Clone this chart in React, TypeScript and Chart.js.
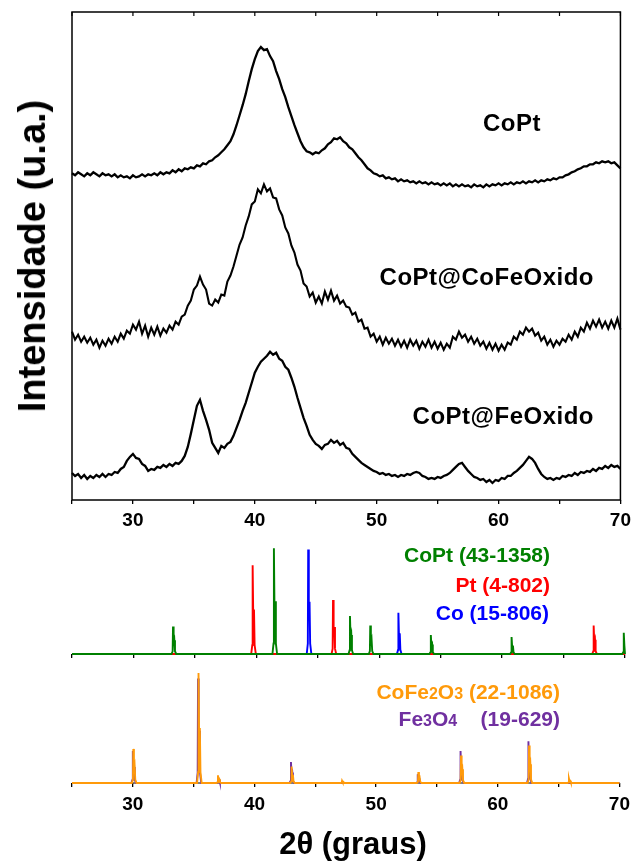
import React, { useEffect, useRef } from "react";
import { Chart, registerables } from "chart.js";

Chart.register(...registerables);

// Measured scans: 2θ from 25° to 70° in 0.25° steps (stacked, arbitrary units)
const SCAN_START = 25;
const SCAN_STEP = 0.25;

const scanCoPt = [
  326, 324, 327, 325, 323, 326, 324, 327, 325, 323, 326, 324, 325, 323, 325, 322, 324, 322, 323, 321,
  324, 322, 323, 325, 323, 325, 324, 326, 324, 327, 325, 327, 326, 329, 327, 330, 328, 331, 330, 332,
  331, 334, 333, 336, 335, 338, 339, 342, 344, 347, 350, 354, 358, 365, 374, 384, 394, 405, 418, 430,
  440, 448, 452, 449, 450, 443, 438, 428, 420, 410, 402, 392, 383, 374, 366, 358, 352, 348, 347, 345,
  347, 346, 349, 351, 355, 357, 361, 360, 362, 358, 356, 352, 350, 346, 342, 339, 335, 331, 329, 326,
  325, 323, 324, 321, 322, 320, 321, 318, 320, 318, 319, 317, 318, 316, 318, 316, 317, 315, 317, 315,
  316, 314, 316, 314, 316, 313, 315, 313, 315, 313, 314, 312, 315, 313, 314, 312, 315, 313, 315, 314,
  316, 314, 316, 315, 317, 315, 317, 316, 318, 316, 318, 317, 319, 317, 319, 318, 320, 319, 321, 320,
  322, 322, 324, 325, 327, 328, 330, 331, 333, 333, 335, 335, 337, 336, 338, 337, 338, 336, 337, 334,
  331,
];

const scanCoPtCoFe = [
  168, 160, 165, 158, 163, 157, 162, 155, 160, 152, 159, 154, 161, 156, 163, 158, 166, 161, 169, 166,
  175, 170, 178, 166, 174, 163, 172, 165, 173, 164, 171, 167, 174, 170, 178, 175, 183, 185, 194, 199,
  210, 214, 223, 215, 210, 196, 194, 200, 197, 205, 204, 218, 224, 233, 244, 255, 262, 274, 283, 295,
  298, 310, 306, 315, 308, 311, 302, 301, 290, 284, 272, 266, 254, 247, 235, 229, 216, 213, 203, 207,
  197, 203, 196, 208, 200, 209, 199, 204, 196, 199, 193, 192, 185, 187, 178, 180, 171, 172, 163, 166,
  158, 163, 155, 162, 156, 161, 154, 160, 153, 159, 152, 160, 154, 159, 151, 158, 153, 160, 152, 158,
  151, 157, 150, 156, 152, 163, 160, 168, 162, 165, 158, 163, 156, 161, 154, 158, 151, 157, 150, 156,
  149, 155, 150, 157, 155, 163, 160, 168, 165, 172, 168, 171, 164, 167, 159, 163, 155, 160, 153, 159,
  155, 161, 158, 165, 160, 168, 163, 172, 168, 177, 171, 179, 173, 180, 172, 178, 171, 179, 172, 181,
  170,
];

const scanCoPtFe = [
  27, 24, 26, 22, 25, 21, 24, 22, 25, 23, 26, 23, 26, 25, 28, 27, 31, 33, 39, 43,
  46, 42, 41, 36, 34, 29, 31, 30, 33, 32, 35, 33, 36, 34, 37, 36, 39, 44, 53, 66,
  80, 94, 100, 89, 80, 70, 57, 52, 47, 54, 52, 56, 58, 64, 72, 80, 89, 97, 107, 117,
  127, 133, 138, 141, 144, 148, 145, 147, 141, 139, 133, 130, 122, 113, 102, 92, 82, 74, 65, 60,
  56, 54, 51, 55, 56, 60, 57, 59, 55, 57, 52, 51, 46, 43, 40, 37, 35, 33, 31, 29,
  28, 26, 27, 25, 26, 24, 25, 23, 25, 24, 26, 25, 27, 28, 27, 24, 23, 21, 22, 21,
  23, 22, 24, 25, 27, 30, 33, 36, 37, 33, 29, 26, 23, 22, 20, 21, 18, 20, 17, 20,
  19, 22, 21, 24, 24, 27, 29, 32, 35, 39, 43, 41, 37, 31, 26, 23, 21, 22, 20, 22,
  21, 24, 23, 25, 24, 27, 25, 28, 27, 29, 28, 31, 29, 32, 31, 34, 32, 35, 33, 34,
  31,
];

// Reference patterns (JCPDS): peak positions (2θ) and relative intensities
const coptPeaks = [33.22, 41.43, 47.62, 49.27, 54.2, 60.77, 69.9];
const coptInts = [26, 100, 36, 27, 18, 16, 20];
const ptPeaks = [39.7, 46.24, 67.45];
const ptInts = [84, 51, 27];
const coPeaks = [44.22, 51.56];
const coInts = [99, 39];

const cfoPeaks = [30.04, 35.4, 37.0, 43.05, 47.2, 53.47, 56.98, 62.57, 65.85];
const cfoInts = [31, 100, 7, 15, 2, 10, 25, 34, 4];
const fe3o4Peaks = [30.0, 35.36, 37.0, 43.0, 53.42, 56.94, 62.52];
const fe3o4Ints = [29, 95, 6, 19, 8, 29, 38];

const xTicksMajor = [30, 40, 50, 60, 70];

const FONT = "'Liberation Sans', Arial, Helvetica, sans-serif";

type Pt = { x: number; y: number };

const toPoints = (vals: number[]): Pt[] =>
  vals.map((v, i) => ({ x: SCAN_START + i * SCAN_STEP, y: v }));

// Narrow line profile for each reference reflection (Kα1 with Kα2 shoulder)
const stickProfile = (pos: number[], ints: number[]): Pt[] => {
  const pts: Pt[] = [{ x: 25, y: 0 }];
  pos.forEach((p, i) => {
    const h = ints[i];
    pts.push(
      { x: p - 0.12, y: 0 },
      { x: p - 0.03, y: h * 0.1 },
      { x: p, y: h },
      { x: p + 0.05, y: h * 0.4 },
      { x: p + 0.11, y: h * 0.5 },
      { x: p + 0.16, y: h * 0.1 },
      { x: p + 0.26, y: 0 }
    );
  });
  pts.push({ x: 70, y: 0 });
  return pts.filter((q) => q.x >= 25 && q.x <= 70).sort((a, b) => a.x - b.x);
};

const tickLabel = (v: any, show: boolean) => {
  const n = Number(v);
  return show && xTicksMajor.includes(n) ? String(n) : "";
};

const xScale = (showLabels: boolean, axisHeight: number, padding: number) => ({
  type: "linear" as const,
  min: 25,
  max: 70,
  afterFit: (s: any) => {
    s.height = axisHeight;
  },
  ticks: {
    stepSize: 5,
    autoSkip: false,
    maxRotation: 0,
    padding,
    color: "#000",
    font: { family: FONT, size: 19, weight: "bold" as const },
    callback: (v: any) => tickLabel(v, showLabels),
  },
  grid: {
    drawOnChartArea: false,
    drawTicks: true,
    tickLength: 4,
    color: "#000",
    lineWidth: 1.3,
  },
  border: { display: false },
});

// Frame around the measured-scan panel, with inward ticks on the top edge
const framePlugin = {
  id: "panelFrame",
  afterDraw(chart: any) {
    const { ctx, chartArea: a, scales } = chart;
    ctx.save();
    ctx.strokeStyle = "#000";
    ctx.lineWidth = 1.5;
    ctx.strokeRect(a.left, a.top, a.right - a.left, a.bottom - a.top);
    ctx.lineWidth = 1.2;
    for (let v = 25; v <= 70; v += 5) {
      const px = scales.x.getPixelForValue(v);
      ctx.beginPath();
      ctx.moveTo(px, a.top);
      ctx.lineTo(px, a.top + 4);
      ctx.stroke();
    }
    ctx.restore();
  },
};

// Plain baseline axis for the reference-pattern panels
const baselinePlugin = {
  id: "baselineAxis",
  beforeDatasetsDraw(chart: any) {
    const { ctx, chartArea: a } = chart;
    ctx.save();
    ctx.strokeStyle = "#000";
    ctx.lineWidth = 1.2;
    ctx.beginPath();
    ctx.moveTo(a.left, a.bottom);
    ctx.lineTo(a.right, a.bottom);
    ctx.stroke();
    ctx.restore();
  },
};

const lineDs = (data: Pt[], color: string, width: number) => ({
  data,
  borderColor: color,
  borderWidth: width,
  pointRadius: 0,
  tension: 0,
  fill: false,
  clip: false as const,
});

const baseOptions = (padding: any, x: any, yMax: number) => ({
  animation: false as const,
  responsive: false,
  maintainAspectRatio: false,
  events: [] as any[],
  layout: { padding },
  plugins: { legend: { display: false }, tooltip: { enabled: false } },
  scales: {
    x,
    y: { display: false, min: 0, max: yMax },
  },
});

const abs = (style: React.CSSProperties): React.CSSProperties => ({
  position: "absolute",
  fontFamily: FONT,
  fontWeight: "bold",
  lineHeight: 1,
  whiteSpace: "pre",
  ...style,
});

export default function App() {
  const topRef = useRef<HTMLCanvasElement>(null);
  const midRef = useRef<HTMLCanvasElement>(null);
  const botRef = useRef<HTMLCanvasElement>(null);

  useEffect(() => {
    document.body.style.margin = "0";
    const charts: Chart[] = [];

    charts.push(
      new Chart(topRef.current!, {
        type: "line",
        data: {
          datasets: [
            lineDs(toPoints(scanCoPt), "#000", 2.3),
            lineDs(toPoints(scanCoPtCoFe), "#000", 2.1),
            lineDs(toPoints(scanCoPtFe), "#000", 2.3),
          ],
        },
        options: baseOptions(
          { left: 72, right: 11, top: 12, bottom: 0 },
          xScale(true, 40, 5),
          487
        ) as any,
        plugins: [framePlugin],
      })
    );

    charts.push(
      new Chart(midRef.current!, {
        type: "line",
        data: {
          datasets: [
            lineDs(stickProfile(coptPeaks, coptInts), "#008000", 1.9),
            lineDs(stickProfile(ptPeaks, ptInts), "#FF0000", 1.9),
            lineDs(stickProfile(coPeaks, coInts), "#0000FF", 1.9),
          ],
        },
        options: baseOptions(
          { left: 72, right: 11, top: 2, bottom: 0 },
          xScale(false, 11, 0),
          106
        ) as any,
        plugins: [baselinePlugin],
      })
    );

    charts.push(
      new Chart(botRef.current!, {
        type: "line",
        data: {
          datasets: [
            lineDs(stickProfile(cfoPeaks, cfoInts), "#FF9A0A", 1.9),
            lineDs(stickProfile(fe3o4Peaks, fe3o4Ints), "#7030A0", 1.9),
          ],
        },
        options: baseOptions(
          { left: 72, right: 11, top: 5, bottom: 0 },
          xScale(true, 78, 6),
          102.7
        ) as any,
        plugins: [baselinePlugin],
      })
    );

    return () => charts.forEach((c) => c.destroy());
  }, []);

  return (
    <div
      style={{
        position: "absolute",
        left: 0,
        top: 0,
        width: 636,
        height: 861,
        background: "#fff",
        overflow: "hidden",
      }}
    >
      <canvas
        ref={topRef}
        width={636}
        height={540}
        style={{ position: "absolute", left: 0, top: 0, width: 636, height: 540 }}
      />
      <canvas
        ref={midRef}
        width={636}
        height={125}
        style={{ position: "absolute", left: 0, top: 540, width: 636, height: 125 }}
      />
      <canvas
        ref={botRef}
        width={636}
        height={196}
        style={{ position: "absolute", left: 0, top: 665, width: 636, height: 196 }}
      />

      <div
        style={abs({
          left: 32,
          top: 256,
          fontSize: 38,
          transform: "translate(-50%, -50%) rotate(-90deg)",
        })}
      >
        Intensidade (u.a.)
      </div>

      <div style={abs({ left: 512, top: 123, fontSize: 24, letterSpacing: 0.5, transform: "translate(-50%, -50%)" })}>
        CoPt
      </div>
      <div style={abs({ right: 42, top: 277, fontSize: 24, letterSpacing: 0.5, transform: "translateY(-50%)" })}>
        CoPt@CoFeOxido
      </div>
      <div style={abs({ right: 42, top: 416, fontSize: 24, letterSpacing: 0.5, transform: "translateY(-50%)" })}>
        CoPt@FeOxido
      </div>

      <div style={abs({ right: 86, top: 554, fontSize: 21, color: "#008000", transform: "translateY(-50%)" })}>
        CoPt (43-1358)
      </div>
      <div style={abs({ right: 86, top: 584, fontSize: 21, color: "#FF0000", transform: "translateY(-50%)" })}>
        Pt (4-802)
      </div>
      <div style={abs({ right: 87, top: 612, fontSize: 21, color: "#0000FF", transform: "translateY(-50%)" })}>
        Co (15-806)
      </div>

      <div style={abs({ right: 76, top: 691, fontSize: 21, color: "#FF9A0A", transform: "translateY(-50%)" })}>
        CoFe<span style={{ fontSize: 16 }}>2</span>O<span style={{ fontSize: 16 }}>3</span> (22-1086)
      </div>
      <div style={abs({ right: 76, top: 718, fontSize: 21, color: "#7030A0", transform: "translateY(-50%)" })}>
        Fe<span style={{ fontSize: 16 }}>3</span>O<span style={{ fontSize: 16 }}>4</span>{"    "}(19-629)
      </div>

      <div style={abs({ left: 353, top: 843, fontSize: 31, transform: "translate(-50%, -50%)" })}>
        2θ (graus)
      </div>
    </div>
  );
}
